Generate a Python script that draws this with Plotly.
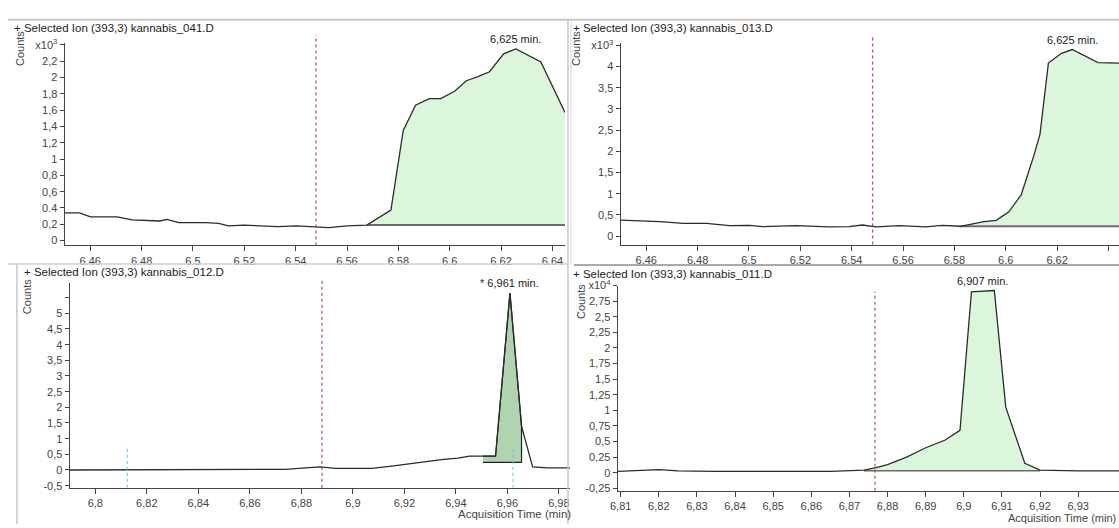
import plotly.graph_objects as go

W, H = 1119, 528

# ---------------- data ----------------
# Panel 1: kannabis_041.D (x10^3 counts)
p1_x = [6.450, 6.4558, 6.4601, 6.4705, 6.4763, 6.4820, 6.4871, 6.4898, 6.4945, 6.5050, 6.5100,
        6.5138, 6.5200, 6.5260, 6.5330, 6.5401, 6.5480, 6.5530, 6.5600, 6.5677,
        6.5771, 6.5819, 6.5867, 6.5920, 6.5965, 6.6019, 6.6065, 6.6110, 6.6155, 6.6210,
        6.6258, 6.6355, 6.6449]
p1_y = [0.34, 0.34, 0.29, 0.29, 0.255, 0.25, 0.24, 0.26, 0.22, 0.22, 0.21,
        0.18, 0.19, 0.18, 0.17, 0.18, 0.17, 0.16, 0.18, 0.19,
        0.375, 1.35, 1.66, 1.74, 1.74, 1.83, 1.96, 2.01, 2.07, 2.29,
        2.35, 2.19, 1.57]
p1_peak_start, p1_base = 6.5677, 0.19
p1_apex = (6.6258, 2.35, "6,625 min.")
p1_marker = 6.5479

# Panel 2: kannabis_013.D (x10^3 counts)
p2_x = [6.450, 6.4654, 6.4744, 6.4834, 6.4925, 6.5002, 6.5054, 6.5183, 6.5312, 6.5390, 6.5442,
        6.5494, 6.5585, 6.5688, 6.5752, 6.5823,
        6.5915, 6.5963, 6.6012, 6.6060, 6.6109, 6.6133, 6.6166, 6.6217, 6.6259, 6.6314,
        6.6359, 6.6441]
p2_y = [0.375, 0.34, 0.30, 0.30, 0.245, 0.25, 0.22, 0.245, 0.215, 0.22, 0.26,
        0.215, 0.245, 0.215, 0.25, 0.23,
        0.34, 0.37, 0.57, 0.97, 1.89, 2.39, 4.08, 4.31, 4.40, 4.23,
        4.09, 4.08]
p2_peak_start, p2_base = 6.5823, 0.23
p2_apex = (6.6259, 4.40, "6,625 min.")
p2_marker = 6.5482

# Panel 3: kannabis_012.D (x10^4 counts)
p3_x = [6.790, 6.8000, 6.8200, 6.8400, 6.8600, 6.8739, 6.8816, 6.8874, 6.8932, 6.9074, 6.9151,
        6.9254, 6.9344, 6.9408, 6.9453, 6.9554, 6.9610, 6.9655, 6.9698, 6.9756, 6.9843]
p3_y = [0.0, 0.0, 0.0, 0.0, 0.0, 0.02, 0.07, 0.10, 0.05, 0.05, 0.12,
        0.24, 0.33, 0.38, 0.44, 0.44, 5.65, 1.40, 0.10, 0.07, 0.07]
p3_int_x = [6.9505, 6.9554, 6.9610, 6.9655, 6.9655, 6.9505]
p3_int_y = [0.44, 0.44, 5.65, 1.40, 0.24, 0.24]
p3_apex = (6.9610, 5.65, "* 6,961 min.")
p3_marker = 6.888
p3_cyan = [6.8124, 6.9622]

# Panel 4: kannabis_011.D (x10^4 counts)
p4_x = [6.8092, 6.815, 6.820, 6.825, 6.835, 6.850, 6.865, 6.8738,
        6.877, 6.880, 6.885, 6.890, 6.895, 6.899, 6.902, 6.908, 6.911, 6.916, 6.920,
        6.930, 6.9407]
p4_y = [0.02, 0.03, 0.05, 0.03, 0.02, 0.02, 0.02, 0.04,
        0.08, 0.13, 0.25, 0.40, 0.52, 0.68, 2.90, 2.92, 1.05, 0.15, 0.04,
        0.03, 0.03]
p4_peak_start, p4_peak_end, p4_base = 6.8738, 6.920, 0.03
p4_apex = (6.905, 2.92, "6,907 min.")
p4_marker = 6.8767

top_xticks = [6.46, 6.48, 6.50, 6.52, 6.54, 6.56, 6.58, 6.60, 6.62, 6.64]
top_xtext = ["6.46", "6.48", "6.5", "6.52", "6.54", "6.56", "6.58", "6.6", "6.62", "6.64"]
p1_yticks = [0, 0.2, 0.4, 0.6, 0.8, 1.0, 1.2, 1.4, 1.6, 1.8, 2.0, 2.2, 2.4]
p1_ytext = ["0", "0,2", "0.4", "0,6", "0,8", "1", "1,2", "1,4", "1,6", "1,8", "2", "2,2", "x10<sup>3</sup>"]
p2_yticks = [0, 0.5, 1.0, 1.5, 2.0, 2.5, 3.0, 3.5, 4.0, 4.5]
p2_ytext = ["0", "0,5", "1", "1,5", "2", "2,5", "3", "3,5", "4", "x10<sup>3</sup>"]
p3_xticks = [6.80, 6.82, 6.84, 6.86, 6.88, 6.90, 6.92, 6.94, 6.96, 6.98]
p3_xtext = ["6,8", "6,82", "6,84", "6,86", "6,88", "6,9", "6,92", "6,94", "6,96", "6,98"]
p3_yticks = [-0.5, 0, 0.5, 1.0, 1.5, 2.0, 2.5, 3.0, 3.5, 4.0, 4.5, 5.0, 5.5, 6.0]
p3_ytext = ["-0,5", "0", "0,5", "1", "1,5", "2", "2,5", "3", "3,5", "4", "4,5", "5", " ", "x10<sup>4</sup>"]
p4_xticks = [6.81, 6.82, 6.83, 6.84, 6.85, 6.86, 6.87, 6.88, 6.89, 6.90, 6.91, 6.92, 6.93]
p4_xtext = ["6,81", "6,82", "6,83", "6,84", "6,85", "6,86", "6,87", "6,88", "6,89", "6,9", "6,91", "6,92", "6,93"]
p4_yticks = [-0.25, 0, 0.25, 0.5, 0.75, 1.0, 1.25, 1.5, 1.75, 2.0, 2.25, 2.5, 2.75, 3.0]
p4_ytext = ["-0,25", "0", "0,25", "0,5", "0,75", "1", "1,25", "1,5", "1,75", "2", "2,25", "2,5", "2,75", "x10<sup>4</sup>"]

titles = ["+ Selected Ion (393,3) kannabis_041.D", "+ Selected Ion (393,3) kannabis_013.D",
          "+ Selected Ion (393,3) kannabis_012.D", "+ Selected Ion (393,3) kannabis_011.D"]

# ---------------- layout helpers ----------------
def xd(l, r):
    return [l / W, min(r / W, 1.0)]

def yd(t, b):
    return [1 - b / H, 1 - t / H]

FONT = "Liberation Sans"
LIGHT_FILL = "rgba(214,245,214,0.85)"
INT_FILL = "rgb(176,212,176)"
LINE = "#2b2b2b"
BASE = "#6a6a6a"

fig = go.Figure()

panels = [
    dict(n="", x=p1_x, y=p1_y, xr=[6.45, 6.6449], yr=[-0.06, 2.42],
         xdom=xd(57, 561), ydom=yd(36, 243), xt=top_xticks, xtt=top_xtext, yt=p1_yticks, ytt=p1_ytext),
    dict(n="2", x=p2_x, y=p2_y, xr=[6.45, 6.6441], yr=[-0.2, 4.55],
         xdom=xd(617, 1119), ydom=yd(36, 242), xt=top_xticks, xtt=top_xtext, yt=p2_yticks, ytt=p2_ytext),
    dict(n="3", x=p3_x, y=p3_y, xr=[6.79, 6.9843], yr=[-0.57, 5.98],
         xdom=xd(62, 566), ydom=yd(281, 491), xt=p3_xticks, xtt=p3_xtext, yt=p3_yticks, ytt=p3_ytext),
    dict(n="4", x=p4_x, y=p4_y, xr=[6.8092, 6.9407], yr=[-0.29, 3.0],
         xdom=xd(614, 1119), ydom=yd(284, 494), xt=p4_xticks, xtt=p4_xtext, yt=p4_yticks, ytt=p4_ytext),
]

for p in panels:
    n = p["n"]
    xa, ya = "x" + n, "y" + n
    ax = dict(domain=p["xdom"], range=p["xr"], anchor=ya, showgrid=False, zeroline=False,
              showline=True, linecolor="#444", linewidth=1, ticks="outside", ticklen=5,
              tickcolor="#444", tickvals=p["xt"], ticktext=p["xtt"],
              tickfont=dict(family=FONT, size=11, color="#444"), fixedrange=True)
    ay = dict(domain=p["ydom"], range=p["yr"], anchor=xa, showgrid=False, zeroline=False,
              showline=True, linecolor="#444", linewidth=1, ticks="outside", ticklen=4,
              tickcolor="#444", tickvals=p["yt"], ticktext=p["ytt"],
              tickfont=dict(family=FONT, size=11, color="#444"), fixedrange=True)
    fig.layout["xaxis" + n] = ax
    fig.layout["yaxis" + n] = ay

def peak_polygon(xs, ys, x0, x1, base):
    px = [x for x in xs if x0 <= x <= x1]
    py = [y for x, y in zip(xs, ys) if x0 <= x <= x1]
    return px + [px[-1], px[0]], py + [base, base]

# panel 1
fx, fy = peak_polygon(p1_x, p1_y, p1_peak_start, p1_x[-1], p1_base)
fig.add_trace(go.Scatter(x=fx, y=fy, fill="toself", fillcolor=LIGHT_FILL, line=dict(width=0),
                         mode="lines", xaxis="x", yaxis="y", hoverinfo="skip"))
fig.add_trace(go.Scatter(x=[p1_peak_start, p1_x[-1]], y=[p1_base, p1_base], mode="lines",
                         line=dict(color=BASE, width=2), xaxis="x", yaxis="y"))
fig.add_trace(go.Scatter(x=p1_x, y=p1_y, mode="lines", line=dict(color=LINE, width=1.3),
                         xaxis="x", yaxis="y"))

# panel 2
fx, fy = peak_polygon(p2_x, p2_y, p2_peak_start, p2_x[-1], p2_base)
fig.add_trace(go.Scatter(x=fx, y=fy, fill="toself", fillcolor=LIGHT_FILL, line=dict(width=0),
                         mode="lines", xaxis="x2", yaxis="y2", hoverinfo="skip"))
fig.add_trace(go.Scatter(x=[p2_peak_start, p2_x[-1]], y=[p2_base, p2_base], mode="lines",
                         line=dict(color=BASE, width=2), xaxis="x2", yaxis="y2"))
fig.add_trace(go.Scatter(x=p2_x, y=p2_y, mode="lines", line=dict(color=LINE, width=1.3),
                         xaxis="x2", yaxis="y2"))

# panel 3
fig.add_trace(go.Scatter(x=p3_int_x, y=p3_int_y, fill="toself", fillcolor=INT_FILL,
                         line=dict(color="#222", width=1.2), mode="lines", xaxis="x3", yaxis="y3"))
fig.add_trace(go.Scatter(x=p3_x, y=p3_y, mode="lines", line=dict(color=LINE, width=1.3),
                         xaxis="x3", yaxis="y3"))

# panel 4
fx, fy = peak_polygon(p4_x, p4_y, p4_peak_start, p4_peak_end, p4_base)
fig.add_trace(go.Scatter(x=fx, y=fy, fill="toself", fillcolor=LIGHT_FILL, line=dict(width=0),
                         mode="lines", xaxis="x4", yaxis="y4", hoverinfo="skip"))
fig.add_trace(go.Scatter(x=[p4_peak_start, p4_peak_end], y=[p4_base, p4_base], mode="lines",
                         line=dict(color=BASE, width=1.5), xaxis="x4", yaxis="y4"))
fig.add_trace(go.Scatter(x=p4_x, y=p4_y, mode="lines", line=dict(color=LINE, width=1.3),
                         xaxis="x4", yaxis="y4"))

shapes = []
RED = "#a0302c"
CYAN = "#5ac8d8"
for xa, ya, xv, y1 in [("x", "y", p1_marker, 1.04), ("x2", "y2", p2_marker, 1.04),
                       ("x3", "y3", p3_marker, 1.02), ("x4", "y4", p4_marker, 0.97)]:
    shapes.append(dict(type="line", xref=xa, yref=ya + " domain", x0=xv, x1=xv, y0=0, y1=y1,
                       line=dict(color=RED, width=1, dash="dot")))
for xv in p3_cyan:
    shapes.append(dict(type="line", xref="x3", yref="y3", x0=xv, x1=xv, y0=-0.57, y1=0.78,
                       line=dict(color=CYAN, width=1, dash="dot")))

# panel frames / separators (paper coords)
def pline(x0, y0, x1, y1, color="#c8c8c8", width=2):
    return dict(type="line", xref="paper", yref="paper", x0=x0 / W, x1=x1 / W,
                y0=1 - y0 / H, y1=1 - y1 / H, line=dict(color=color, width=width))

shapes += [
    pline(0, 12, 1119, 12),
    pline(564, 12, 564, 528, "#c8c8c8", 1.5),
    pline(567, 12, 567, 263, "#d8d8d8", 1),
    pline(0, 262, 564, 262, "#d0d0d0", 1.5),
    pline(570, 263, 1119, 263, "#555", 1),
    pline(9, 262, 9, 528, "#c8c8c8", 1.5),
]
fig.update_layout(shapes=shapes)

ann = []
def text(x, y, s, size=11.5, xanchor="left", angle=0, color="#222"):
    ann.append(dict(x=x / W, y=1 - y / H, xref="paper", yref="paper", text=s, showarrow=False,
                    xanchor=xanchor, yanchor="middle", textangle=angle,
                    font=dict(family=FONT, size=size, color=color)))

text(4, 20, titles[0])
text(567, 20, titles[1])
text(14, 270, titles[2])
text(567, 272, titles[3])
for x, y in [(12, 41), (572, 41), (19, 295), (577, 300)]:
    text(x, y, "Counts", size=11, xanchor="center", angle=-90, color="#444")
text(510, 518, "Acquisition Time (min)", size=11.5, xanchor="center", color="#444")
text(1062, 522, "Acquisition Time (min)", size=11, xanchor="center", color="#444")

for xa, ya, apex in [("x", "y", p1_apex), ("x2", "y2", p2_apex), ("x3", "y3", p3_apex), ("x4", "y4", p4_apex)]:
    ann.append(dict(x=apex[0], y=apex[1], xref=xa, yref=ya, text=apex[2], showarrow=False,
                    yanchor="bottom", xanchor="center", yshift=2,
                    font=dict(family=FONT, size=11, color="#222")))

fig.update_layout(annotations=ann, width=W, height=H, margin=dict(l=0, r=0, t=0, b=0),
                  paper_bgcolor="white", plot_bgcolor="white", showlegend=False)

fig.write_html("out.html", config={"displayModeBar": False},
               post_script="document.body.style.margin='0px';document.body.style.overflow='hidden';")
